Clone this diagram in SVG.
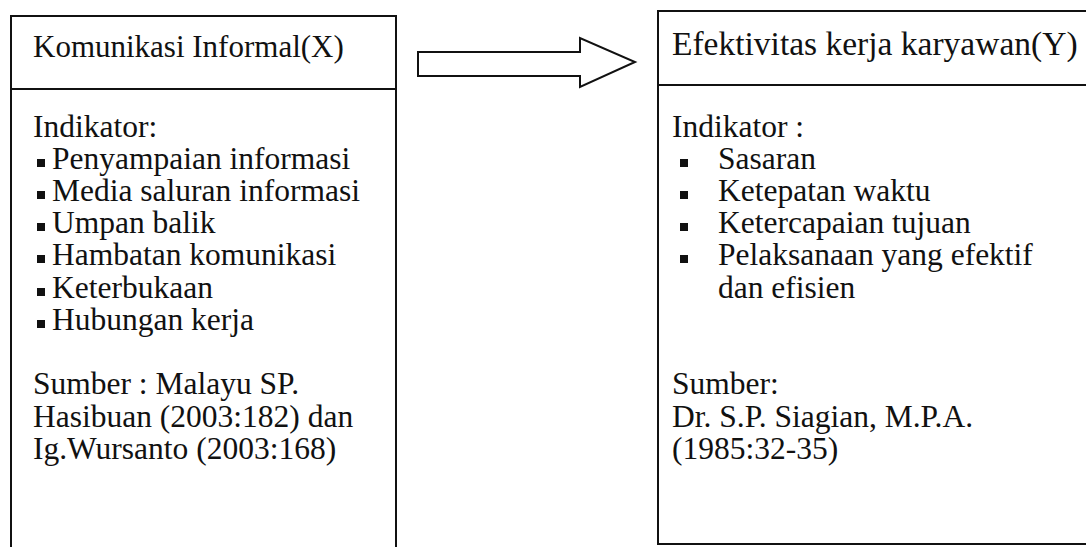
<svg xmlns="http://www.w3.org/2000/svg" width="1086" height="547" viewBox="0 0 1086 547">
<style>
.t{font-family:"Liberation Serif","Times New Roman",serif;font-size:31.5px;fill:#111}
.h{font-size:31px}
.rh{font-size:33.5px}
.b{fill:#111}
.ln{fill:none;stroke:#111;stroke-width:2}
</style>
<rect width="1086" height="547" fill="#fff"/>
<g id="node-x">
<path class="ln" d="M11,547 V16 H396 V547"/>
<path class="ln" d="M11,89 H396"/>
<text class="t h" x="33" y="57">Komunikasi Informal(X)</text>
<text class="t" x="33" y="137">Indikator:</text>
<rect class="b" x="37" y="159" width="8" height="8"/>
<text class="t" x="52" y="169">Penyampaian informasi</text>
<rect class="b" x="37" y="191" width="8" height="8"/>
<text class="t" x="52" y="201">Media saluran informasi</text>
<rect class="b" x="37" y="223" width="8" height="8"/>
<text class="t" x="52" y="233">Umpan balik</text>
<rect class="b" x="37" y="255" width="8" height="8"/>
<text class="t" x="52" y="265">Hambatan komunikasi</text>
<rect class="b" x="37" y="288" width="8" height="8"/>
<text class="t" x="52" y="298">Keterbukaan</text>
<rect class="b" x="37" y="320" width="8" height="8"/>
<text class="t" x="52" y="330">Hubungan kerja</text>
<text class="t" x="33" y="394">Sumber : Malayu SP.</text>
<text class="t" x="33" y="427">Hasibuan (2003:182) dan</text>
<text class="t" x="33" y="459">Ig.Wursanto (2003:168)</text>
</g>
<g id="node-y">
<path class="ln" d="M1086,11 H658 V544 H1086"/>
<path class="ln" d="M658,85 H1086"/>
<text class="t rh" x="672" y="55">Efektivitas kerja karyawan(Y)</text>
<text class="t" x="672" y="137">Indikator :</text>
<rect class="b" x="680" y="159" width="8" height="8"/>
<text class="t" x="718" y="169">Sasaran</text>
<rect class="b" x="680" y="191" width="8" height="8"/>
<text class="t" x="718" y="201">Ketepatan waktu</text>
<rect class="b" x="680" y="223" width="8" height="8"/>
<text class="t" x="718" y="233">Ketercapaian tujuan</text>
<rect class="b" x="680" y="255" width="8" height="8"/>
<text class="t" x="718" y="265">Pelaksanaan yang efektif</text>
<text class="t" x="718" y="298">dan efisien</text>
<text class="t" x="672" y="394">Sumber:</text>
<text class="t" x="672" y="427">Dr. S.P. Siagian, M.P.A.</text>
<text class="t" x="672" y="459">(1985:32-35)</text>
</g>
<g id="connectors">
<polygon class="ln" points="418,52 580,52 580,38 635,62 580,87 580,76 418,76"/>
</g>
</svg>
